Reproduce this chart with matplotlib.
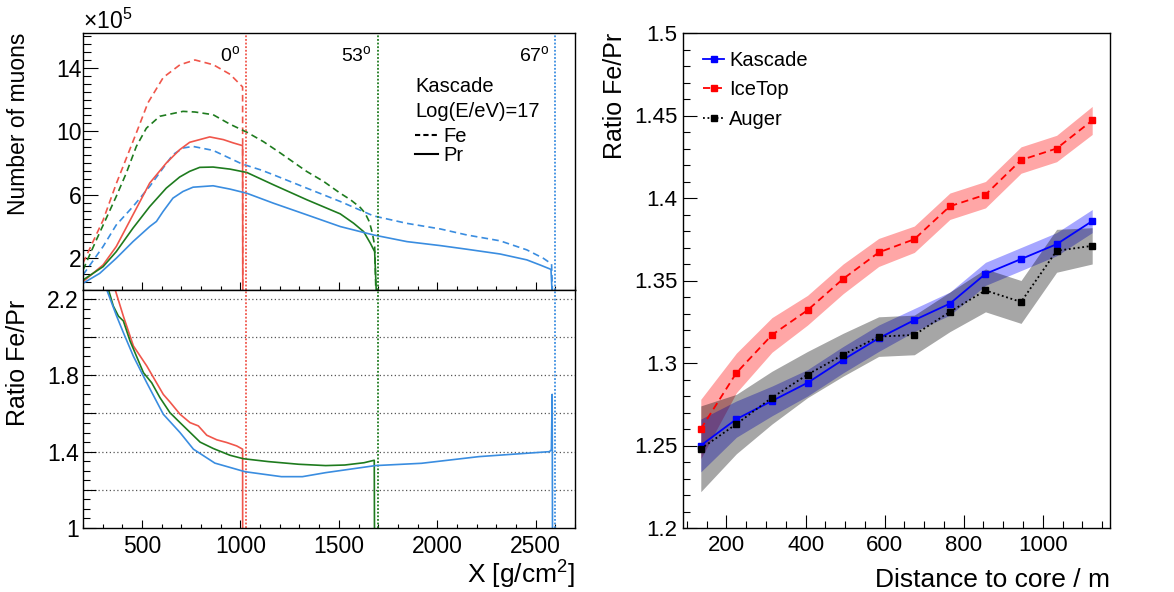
import matplotlib
matplotlib.use('Agg')
import matplotlib.pyplot as plt
from matplotlib.lines import Line2D
from matplotlib.ticker import MultipleLocator, FixedLocator, FixedFormatter

plt.rcParams['font.family'] = ['Liberation Sans', 'DejaVu Sans']
plt.rcParams['mathtext.fontset'] = 'custom'
plt.rcParams['mathtext.rm'] = 'Liberation Sans'
plt.rcParams['mathtext.it'] = 'Liberation Sans:italic'

################################################################################
# Longitudinal muon profiles (number of muons / 1e5) vs slant depth X [g/cm2]

x_fe_0 = [200, 302, 369, 420, 471, 530, 608, 693, 769, 862, 947, 1011, 1012]
n_fe_0 = [1.7, 4.4, 6.7, 8.3, 9.9, 11.8, 13.4, 14.2, 14.5, 14.2, 13.6, 12.8, 0.0]
x_pr_0 = [200, 302, 369, 454, 539, 623, 691, 742, 844, 913, 964, 1011, 1012]
n_pr_0 = [0.53, 1.58, 2.74, 4.74, 6.74, 8.0, 8.84, 9.31, 9.65, 9.48, 9.27, 9.1, 0.0]

x_fe_53 = [200, 268, 369, 420, 471, 522, 590, 708, 769, 861, 947, 1032, 1117, 1201,
           1337, 1422, 1507, 1558, 1609, 1633, 1655, 1670, 1682, 1688]
n_fe_53 = [1.26, 3.16, 5.9, 7.37, 9.05, 10.2, 10.95, 11.26, 11.22, 11.05, 10.45, 9.95, 9.35, 8.65,
           7.47, 6.85, 6.1, 5.7, 5.2, 4.85, 4.3, 3.6, 2.8, 0.0]
x_pr_53 = [200, 302, 369, 454, 539, 623, 691, 742, 793, 861, 947, 1032, 1168, 1337,
           1507, 1575, 1626, 1660, 1682, 1690]
n_pr_53 = [0.63, 1.47, 2.42, 3.9, 5.26, 6.42, 7.12, 7.48, 7.73, 7.75, 7.62, 7.41, 6.63, 5.69,
           4.8, 4.21, 3.68, 2.95, 2.42, 0.0]

x_fe_67 = [200, 302, 369, 454, 539, 607, 657, 708, 759, 861, 1007, 1108, 1168, 1337,
           1507, 1676, 1846, 2015, 2150, 2319, 2455, 2539, 2581, 2585]
n_fe_67 = [0.95, 2.74, 4.1, 5.26, 6.53, 7.69, 8.53, 8.95, 9.05, 8.8, 7.95, 7.55, 7.26, 6.42,
           5.58, 4.67, 4.2, 3.85, 3.47, 3.10, 2.53, 2.0, 1.64, 0.0]
x_pr_67 = [200, 285, 369, 454, 539, 573, 607, 657, 708, 759, 861, 947, 1032, 1168, 1337,
           1507, 1676, 1846, 2015, 2150, 2319, 2455, 2522, 2578, 2583]
n_pr_67 = [0.42, 1.05, 2.0, 3.05, 4.0, 4.32, 4.95, 5.79, 6.21, 6.48, 6.57, 6.36, 6.1, 5.47, 4.74,
           4.0, 3.47, 3.05, 2.8, 2.57, 2.27, 1.9, 1.58, 1.3, 0.0]

# Fe/Pr ratio of the profiles
x_r_0 = [350, 363, 405, 456, 524, 608, 642, 693, 744, 786, 829, 880, 930, 981, 1011, 1012]
r_0 = [2.30, 2.25, 2.11, 1.954, 1.849, 1.70, 1.66, 1.596, 1.552, 1.535, 1.486, 1.462, 1.448,
       1.43, 1.413, 0.0]
x_r_53 = [315, 329, 354, 380, 405, 439, 507, 549, 591, 642, 693, 795, 863, 947, 1015, 1141,
          1296, 1433, 1530, 1628, 1680, 1684]
r_53 = [2.30, 2.25, 2.163, 2.11, 2.085, 1.98, 1.814, 1.761, 1.683, 1.604, 1.552, 1.45, 1.416,
        1.381, 1.363, 1.348, 1.334, 1.327, 1.33, 1.342, 1.355, 0.0]
x_r_67 = [305, 320, 371, 405, 456, 524, 608, 693, 761, 870, 1023, 1208, 1315, 1433, 1686, 1920,
          2212, 2570, 2580, 2584, 2588]
r_67 = [2.30, 2.25, 2.11, 2.024, 1.90, 1.761, 1.596, 1.5, 1.413, 1.34, 1.295, 1.269, 1.269,
        1.29, 1.327, 1.339, 1.374, 1.40, 1.41, 1.70, 0.0]

angle_labels = ['0$^{\\rm o}$', '53$^{\\rm o}$', '67$^{\\rm o}$']
angle_depth = [1030, 1700, 2600]

################################################################################
# Fe/Pr ratio vs distance to the shower core for three detector sites

dist = [135, 225, 315, 405, 495, 585, 675, 765, 855, 945, 1035, 1125]
kascade = [1.250, 1.266, 1.277, 1.288, 1.302, 1.315, 1.326, 1.336, 1.354, 1.363, 1.372, 1.386]
kascade_err = [0.016, 0.011, 0.009, 0.008, 0.008, 0.008, 0.007, 0.007, 0.007, 0.007, 0.007, 0.007]
icetop = [1.260, 1.294, 1.317, 1.332, 1.351, 1.367, 1.375, 1.395, 1.402, 1.423, 1.430, 1.447]
icetop_err = [0.018, 0.012, 0.0105, 0.009, 0.009, 0.0085, 0.008, 0.008, 0.008, 0.008, 0.008, 0.0085]
auger = [1.248, 1.263, 1.279, 1.293, 1.305, 1.316, 1.317, 1.331, 1.344, 1.337, 1.368, 1.371]
auger_err = [0.026, 0.018, 0.016, 0.014, 0.013, 0.012, 0.012, 0.012, 0.013, 0.013, 0.013, 0.011]

################################################################################

c0, c53, c67 = '#f0564b', '#1e7b1e', '#3a8de0'
dash = (0, (4, 2.5))

fig = plt.figure(figsize=(11.74, 5.92), dpi=100)
W, H = 1174., 592.
ax_top = fig.add_axes([83 / W, 1 - 290 / H, 492 / W, 257 / H])
ax_bot = fig.add_axes([83 / W, 1 - 528 / H, 492 / W, 238 / H], sharex=ax_top)
ax_r = fig.add_axes([683 / W, 1 - 528 / H, 427 / W, 495 / H])

for ax in (ax_top, ax_bot, ax_r):
    for sp in ax.spines.values():
        sp.set_linewidth(1.0)
    ax.tick_params(which='both', direction='in', top=False, right=False, width=0.8)

# top panel: profiles
for xs, ns, c in ((x_fe_0, n_fe_0, c0), (x_fe_53, n_fe_53, c53), (x_fe_67, n_fe_67, c67)):
    ax_top.plot(xs, ns, color=c, lw=1.2, linestyle=dash)
for xs, ns, c in ((x_pr_0, n_pr_0, c0), (x_pr_53, n_pr_53, c53), (x_pr_67, n_pr_67, c67)):
    ax_top.plot(xs, ns, color=c, lw=1.2)

ax_top.set_xlim(200, 2700)
ax_top.set_ylim(0, 16.2)
ax_top.yaxis.set_major_locator(FixedLocator([2, 6, 10, 14]))
ax_top.yaxis.set_minor_locator(MultipleLocator(0.5))
ax_top.xaxis.set_major_locator(MultipleLocator(500))
ax_top.xaxis.set_minor_locator(MultipleLocator(100))
ax_top.tick_params(axis='y', which='major', length=10.8, labelsize=16.5, pad=1)
ax_top.tick_params(axis='y', which='minor', length=5.8)
ax_top.tick_params(axis='x', which='major', length=5.8, labelbottom=False)
ax_top.tick_params(axis='x', which='minor', length=2.9)
ax_top.set_ylabel('Number of muons', fontsize=16.5, loc='top')
ax_top.yaxis.set_label_coords(-0.108, 1.0)
ax_top.text(0.0, 0.995, r'$\times$10$^{5}$', transform=ax_top.transAxes, fontsize=16.5,
            ha='left', va='bottom')

for lab, xd, c in zip(angle_labels, angle_depth, (c0, c53, c67)):
    ax_top.axvline(xd, color=c, lw=1.3, linestyle=(0, (1, 1)))
    ax_bot.axvline(xd, color=c, lw=1.3, linestyle=(0, (1, 1)))
    ax_top.text(xd - 30, 0.955, lab, transform=ax_top.get_xaxis_transform(), fontsize=14,
                ha='right', va='top')

ax_top.text(0.675, 0.79, 'Kascade', transform=ax_top.transAxes, fontsize=14.5, va='center')
ax_top.text(0.675, 0.693, 'Log(E/eV)=17', transform=ax_top.transAxes, fontsize=14.5, va='center')
prim_handles = [Line2D([], [], color='black', lw=1.5, linestyle=(0, (2.5, 1.5))),
                Line2D([], [], color='black', lw=1.5)]
leg = ax_top.legend(prim_handles, ['Fe', 'Pr'], loc='upper left', bbox_to_anchor=(0.675, 0.635),
                    frameon=False, fontsize=14.5, handlelength=1.15, handletextpad=0.25,
                    labelspacing=0.0, borderpad=0, borderaxespad=0)

# bottom panel: ratio
for ax_y in (1.2, 1.4, 1.6, 1.8, 2.0, 2.2):
    ax_bot.axhline(ax_y, color='#555555', lw=0.9, linestyle=(0, (1, 2)), zorder=0)
for xs, rs, c in ((x_r_0, r_0, c0), (x_r_53, r_53, c53), (x_r_67, r_67, c67)):
    ax_bot.plot(xs, rs, color=c, lw=1.2)

ax_bot.set_ylim(1.0, 2.247)
ax_bot.yaxis.set_major_locator(FixedLocator([1.0, 1.2, 1.4, 1.6, 1.8, 2.0, 2.2]))
ax_bot.yaxis.set_major_formatter(FixedFormatter(['1', '', '1.4', '', '1.8', '', '2.2']))
ax_bot.yaxis.set_minor_locator(MultipleLocator(0.05))
ax_bot.tick_params(axis='y', which='major', length=9.4, labelsize=16.5, pad=3)
ax_bot.tick_params(axis='y', which='minor', length=5)
ax_bot.tick_params(axis='x', which='major', length=5.8, labelsize=16.5, pad=5)
ax_bot.tick_params(axis='x', which='minor', length=2.9)
ax_bot.set_ylabel('Ratio Fe/Pr', fontsize=18, loc='top')
ax_bot.yaxis.set_label_coords(-0.108, 0.96)
ax_bot.set_xlabel('X [g/cm$^{2}$]', fontsize=19, loc='right')
ax_bot.xaxis.set_label_coords(1.0, -0.13)

# right panel: ratio vs distance
lo = [v - e for v, e in zip(icetop, icetop_err)]
hi = [v + e for v, e in zip(icetop, icetop_err)]
ax_r.fill_between(dist, lo, hi, color='red', alpha=0.35, lw=0)
lo = [v - e for v, e in zip(kascade, kascade_err)]
hi = [v + e for v, e in zip(kascade, kascade_err)]
ax_r.fill_between(dist, lo, hi, color='blue', alpha=0.35, lw=0)
lo = [v - e for v, e in zip(auger, auger_err)]
hi = [v + e for v, e in zip(auger, auger_err)]
ax_r.fill_between(dist, lo, hi, color='black', alpha=0.35, lw=0)

ax_r.plot(dist, kascade, color='#0000ff', lw=1.3, marker='s', ms=3.8, label='Kascade')
ax_r.plot(dist, icetop, color='#ff0000', lw=1.3, linestyle=(0, (4, 2.5)), marker='s', ms=3.8,
          label='IceTop')
ax_r.plot(dist, auger, color='black', lw=1.3, linestyle=(0, (1, 1.5)), marker='s', ms=3.8,
          label='Auger')

ax_r.set_xlim(90, 1170)
ax_r.set_ylim(1.2, 1.5)
ax_r.xaxis.set_major_locator(MultipleLocator(200))
ax_r.xaxis.set_minor_locator(MultipleLocator(50))
ax_r.yaxis.set_major_locator(MultipleLocator(0.05))
ax_r.yaxis.set_minor_locator(MultipleLocator(0.01))
ax_r.yaxis.set_major_formatter(plt.FuncFormatter(lambda v, p: ('%.2f' % v).rstrip('0').rstrip('.')))
ax_r.tick_params(axis='y', which='major', length=10, labelsize=16, pad=4)
ax_r.tick_params(axis='y', which='minor', length=5)
ax_r.tick_params(axis='x', which='major', length=9.4, labelsize=16, pad=5)
ax_r.tick_params(axis='x', which='minor', length=5)
ax_r.set_ylabel('Ratio Fe/Pr', fontsize=18, loc='top')
ax_r.yaxis.set_label_coords(-0.131, 1.0)
ax_r.set_xlabel('Distance to core / m', fontsize=19, loc='right')
ax_r.xaxis.set_label_coords(1.0, -0.08)
ax_r.legend(loc='upper left', bbox_to_anchor=(0.047, 0.964), frameon=False, fontsize=14.5,
            handlelength=1.05, handletextpad=0.25, labelspacing=0.53, borderpad=0,
            borderaxespad=0, numpoints=1)

plt.savefig('out.png', dpi=100)
